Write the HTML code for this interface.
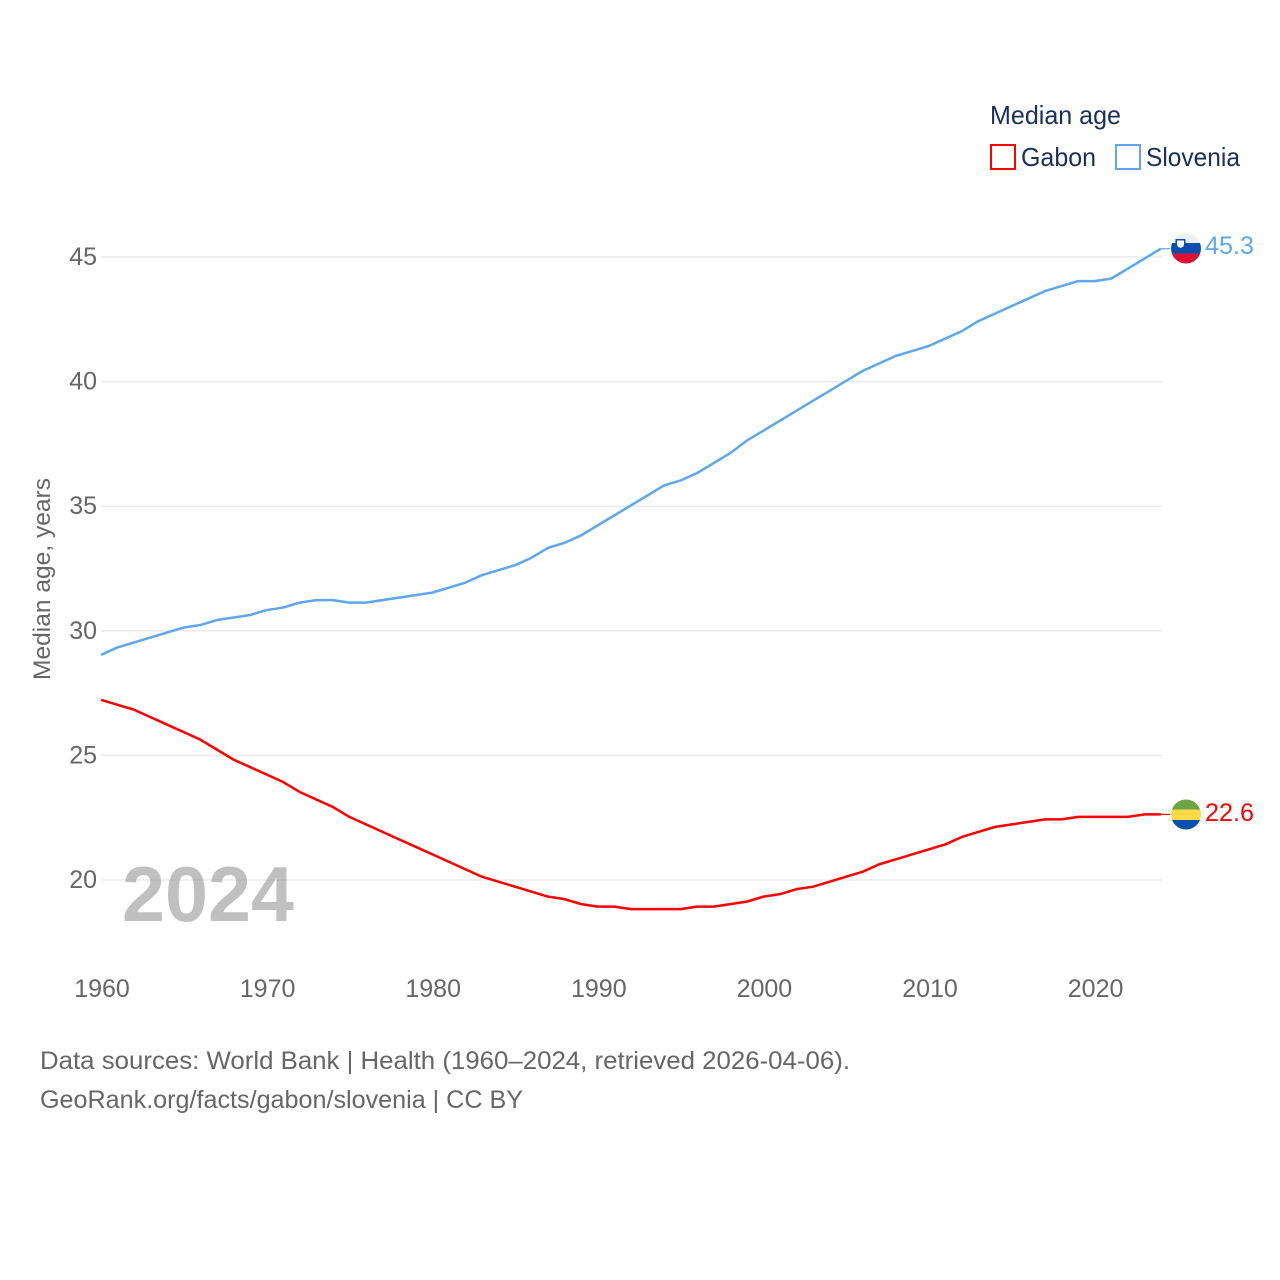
<!DOCTYPE html>
<html lang="en">
<head>
<meta charset="utf-8">
<title>Median age: Gabon and Slovenia</title>
<style>
html,body{margin:0;padding:0;background:#fff;}
svg{display:block;}
text{font-family:"Liberation Sans",sans-serif;}
</style>
</head>
<body>
<svg id="chart" xmlns="http://www.w3.org/2000/svg" width="1280" height="1280" viewBox="0 0 1280 1280">
  <rect width="1280" height="1280" fill="#fff"/>
  <g id="grid"></g>
  <g id="yticks"></g>
  <g id="xticks"></g>
  <text x="122" y="921" font-size="78" font-weight="700" fill="#999" fill-opacity="0.62" textLength="172" lengthAdjust="spacingAndGlyphs">2024</text>
  <text transform="translate(50,680) rotate(-90)" font-size="24" fill="#666" textLength="202" lengthAdjust="spacingAndGlyphs">Median age, years</text>
  <g id="series"></g>
  <g id="flags">
    <defs>
      <clipPath id="clip-si"><circle cx="1186" cy="248.5" r="15"/></clipPath>
      <clipPath id="clip-ga"><circle cx="1186" cy="814.5" r="15"/></clipPath>
    </defs>
    <g clip-path="url(#clip-si)">
      <rect x="1171" y="233" width="30" height="10" fill="#eeeeee"/>
      <rect x="1171" y="243" width="30" height="10.5" fill="#0a4fb0"/>
      <rect x="1171" y="253.5" width="30" height="10" fill="#dc1035"/>
      <path d="M1175.5 239h10v6q0 2.8-5 4.5q-5-1.7-5-4.5z" fill="#0a4fb0"/>
      <path d="M1177 240.5h7v4.2q0 1.8-3.5 3.2q-3.5-1.4-3.5-3.2z" fill="#fff"/>
    </g>
    <g clip-path="url(#clip-ga)">
      <rect x="1171" y="799" width="30" height="10.5" fill="#6da544"/>
      <rect x="1171" y="809.5" width="30" height="10.5" fill="#ffda44"/>
      <rect x="1171" y="820" width="30" height="10.5" fill="#0a4fb0"/>
    </g>
  </g>
  <text id="label-si" x="1205" y="254" font-size="25" fill="#5ea6ee" textLength="49" lengthAdjust="spacingAndGlyphs"></text>
  <text id="label-ga" x="1205" y="821" font-size="25" fill="#ff0000" textLength="49" lengthAdjust="spacingAndGlyphs"></text>

  <g>
    <text x="990" y="124" font-size="26" fill="#18305a" textLength="131" lengthAdjust="spacingAndGlyphs">Median age</text>
    <rect x="991" y="145" width="24" height="24" fill="#fff" stroke="#ff0000" stroke-width="2"/>
    <text x="1021" y="166" font-size="26" fill="#18305a" textLength="75" lengthAdjust="spacingAndGlyphs">Gabon</text>
    <rect x="1116" y="145" width="24" height="24" fill="#fff" stroke="#5ea6ee" stroke-width="2"/>
    <text x="1146" y="166" font-size="26" fill="#18305a" textLength="94" lengthAdjust="spacingAndGlyphs">Slovenia</text>
  </g>

  <text x="40" y="1069" font-size="25" fill="#666" textLength="810" lengthAdjust="spacingAndGlyphs">Data sources: World Bank | Health (1960–2024, retrieved 2026-04-06).</text>
  <text x="40" y="1108" font-size="25" fill="#666" textLength="483" lengthAdjust="spacingAndGlyphs">GeoRank.org/facts/gabon/slovenia | CC BY</text>
</svg>
<script>
const startYear = 1960;
const yTickValues = [20, 25, 30, 35, 40, 45];
const xTickValues = [1960, 1970, 1980, 1990, 2000, 2010, 2020];
const slovenia = [29.0,29.3,29.5,29.7,29.9,30.1,30.2,30.4,30.5,30.6,30.8,30.9,31.1,31.2,31.2,31.1,31.1,31.2,31.3,31.4,31.5,31.7,31.9,32.2,32.4,32.6,32.9,33.3,33.5,33.8,34.2,34.6,35.0,35.4,35.8,36.0,36.3,36.7,37.1,37.6,38.0,38.4,38.8,39.2,39.6,40.0,40.4,40.7,41.0,41.2,41.4,41.7,42.0,42.4,42.7,43.0,43.3,43.6,43.8,44.0,44.0,44.1,44.5,44.9,45.3];
const gabon = [27.2,27.0,26.8,26.5,26.2,25.9,25.6,25.2,24.8,24.5,24.2,23.9,23.5,23.2,22.9,22.5,22.2,21.9,21.6,21.3,21.0,20.7,20.4,20.1,19.9,19.7,19.5,19.3,19.2,19.0,18.9,18.9,18.8,18.8,18.8,18.8,18.9,18.9,19.0,19.1,19.3,19.4,19.6,19.7,19.9,20.1,20.3,20.6,20.8,21.0,21.2,21.4,21.7,21.9,22.1,22.2,22.3,22.4,22.4,22.5,22.5,22.5,22.5,22.6,22.6];

const NS = 'http://www.w3.org/2000/svg';
const xScale = function (year) { return 101 + (year - 1960) * 16.56; };
const yScale = function (value) { return 880 - (value - 20) * 24.92; };
const plotRight = 1162;
const lineLift = 0.8;

function make(tag, parent, attrs) {
  const el = document.createElementNS(NS, tag);
  Object.keys(attrs).forEach(function (k) { el.setAttribute(k, attrs[k]); });
  parent.appendChild(el);
  return el;
}

const gridGroup = document.getElementById('grid');
const yGroup = document.getElementById('yticks');
const xGroup = document.getElementById('xticks');
const seriesGroup = document.getElementById('series');

yTickValues.forEach(function (v) {
  const line = make('line', gridGroup, { x1: 101, x2: plotRight, y1: yScale(v), y2: yScale(v), stroke: '#ebebeb', 'stroke-width': 1.5 });
  
  
  const label = make('text', yGroup, { x: 97, y: yScale(v) + 8, 'text-anchor': 'end', 'font-size': 25, fill: '#666' });
  
  
  label.textContent = String(v);
});

xTickValues.forEach(function (t) {
  const label = make('text', xGroup, { x: xScale(t) + 1, y: 997, 'text-anchor': 'middle', 'font-size': 25, fill: '#666' });
  
  
  label.textContent = String(t);
});

function drawSeries(values, color, name) {
  const pts = values.map(function (v, i) {
    return xScale(startYear + i).toFixed(2) + ',' + (yScale(v) - lineLift).toFixed(2);
  }).join(' ');
  const line = make('polyline', seriesGroup, { points: pts, fill: 'none', stroke: color, 'stroke-width': 2.5, 'stroke-linejoin': 'round' });
  
  
  const lastY = yScale(values[values.length - 1]) - lineLift;
  const lastX = xScale(startYear + values.length - 1);
  const connector = make('line', seriesGroup, { x1: lastX, x2: 1170, y1: lastY, y2: lastY, stroke: color, 'stroke-width': 1.2 });
  
  
}

drawSeries(slovenia, '#5ea6ee', 'slovenia');
drawSeries(gabon, '#ff0000', 'gabon');

document.getElementById('label-si').textContent = slovenia[slovenia.length - 1].toFixed(1);
document.getElementById('label-ga').textContent = gabon[gabon.length - 1].toFixed(1);
</script>
</body>
</html>
